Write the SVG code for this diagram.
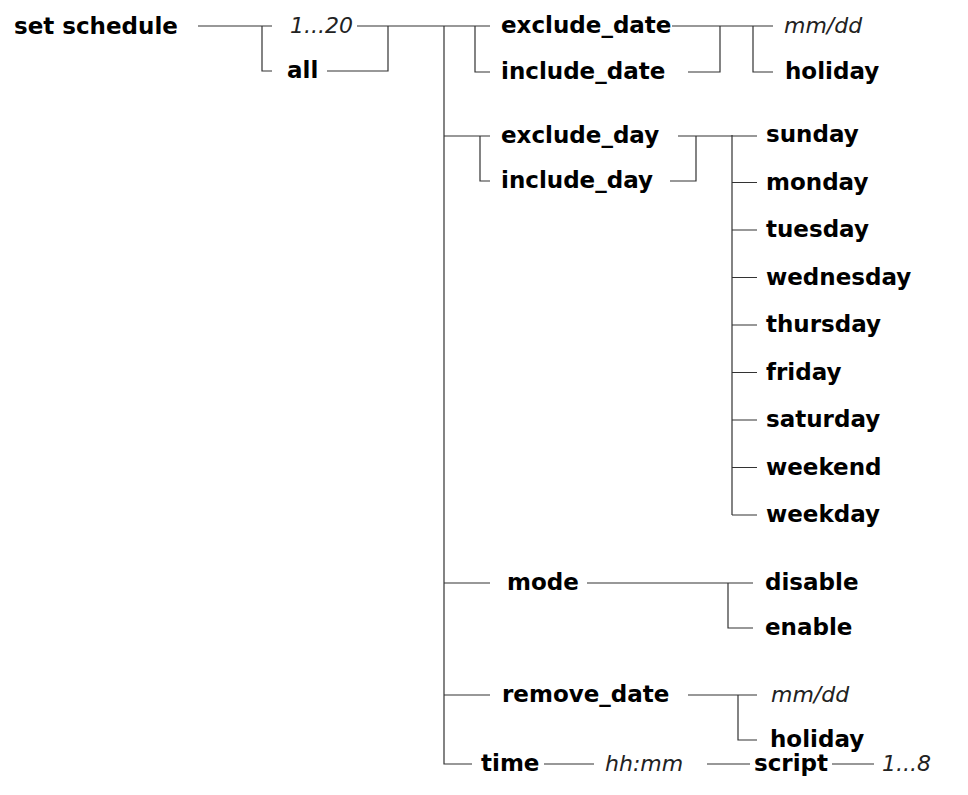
<svg xmlns="http://www.w3.org/2000/svg" width="968" height="795" viewBox="0 0 968 795">
<style>
  text { font-family: "DejaVu Sans", "Liberation Sans", sans-serif; font-size: 23px; fill: #000; }
  .b { font-weight: bold; }
  .i { font-style: italic; fill: #222; font-size: 22px; }
  .c path { fill: none; stroke: #333; stroke-width: 1.2; }
</style>
<rect width="968" height="795" fill="#fff"/>
<g class="c" id="connectors">
  <path d="M198 26 H272 M262 26 V71 H272"/>
  <path d="M357 26 H490 M327 71 H388 V26"/>
  <path d="M444 26 V764 H472"/>
  <path d="M475 26 V72 H490"/>
  <path d="M672 26 H773 M688 72 H720 V26 M753 26 V72 H773"/>
  <path d="M444 136 H490 M480 136 V181 H490"/>
  <path d="M678 136 H757 M670 181 H696 V136"/>
  <path d="M732 135 V515 M732 182.5 H757 M732 230 H757 M732 277.5 H757 M732 325 H757 M732 372.5 H757 M732 420 H757 M732 467.5 H757 M732 515 H757"/>
  <path d="M444 583 H490 M587 583 H753 M728 583 V628 H753"/>
  <path d="M444 695 H490 M688 695 H757 M738 695 V740 H757"/>
  <path d="M544 764 H594 M707 764 H750 M832 764 H874"/>
</g>
<g id="n-set-schedule"><text class="b" x="14" y="34">set schedule</text></g>
<g id="n-1-20"><text class="i" x="290" y="33">1...20</text></g>
<g id="n-all"><text class="b" x="287" y="78">all</text></g>
<g id="n-exclude-date"><text class="b" x="501" y="33">exclude_date</text></g>
<g id="n-include-date"><text class="b" x="501" y="79">include_date</text></g>
<g id="n-mmdd1"><text class="i" x="784" y="33">mm/dd</text></g>
<g id="n-holiday1"><text class="b" x="785" y="79">holiday</text></g>
<g id="n-exclude-day"><text class="b" x="501" y="143">exclude_day</text></g>
<g id="n-include-day"><text class="b" x="501" y="188">include_day</text></g>
<g id="n-sunday"><text class="b" x="766" y="142">sunday</text></g>
<g id="n-monday"><text class="b" x="766" y="189.5">monday</text></g>
<g id="n-tuesday"><text class="b" x="766" y="237">tuesday</text></g>
<g id="n-wednesday"><text class="b" x="766" y="284.5">wednesday</text></g>
<g id="n-thursday"><text class="b" x="766" y="332">thursday</text></g>
<g id="n-friday"><text class="b" x="766" y="379.5">friday</text></g>
<g id="n-saturday"><text class="b" x="766" y="427">saturday</text></g>
<g id="n-weekend"><text class="b" x="766" y="474.5">weekend</text></g>
<g id="n-weekday"><text class="b" x="766" y="522">weekday</text></g>
<g id="n-mode"><text class="b" x="507" y="590">mode</text></g>
<g id="n-disable"><text class="b" x="765" y="590">disable</text></g>
<g id="n-enable"><text class="b" x="765" y="635">enable</text></g>
<g id="n-remove-date"><text class="b" x="502" y="702">remove_date</text></g>
<g id="n-mmdd2"><text class="i" x="771" y="702">mm/dd</text></g>
<g id="n-holiday2"><text class="b" x="770" y="747">holiday</text></g>
<g id="n-time"><text class="b" x="481" y="771">time</text></g>
<g id="n-hhmm"><text class="i" x="605" y="771">hh:mm</text></g>
<g id="n-script"><text class="b" x="754" y="771">script</text></g>
<g id="n-1-8"><text class="i" x="882" y="771">1...8</text></g>
</svg>
